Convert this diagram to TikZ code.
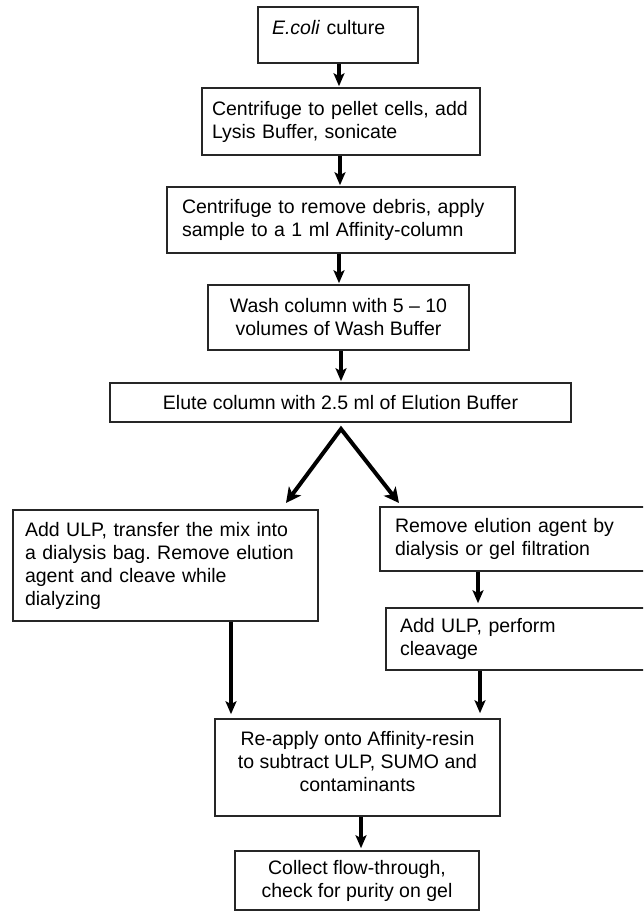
\documentclass[tikz,border=0pt]{standalone}
\usepackage{fontspec}
\setmainfont{Liberation Sans}
\usetikzlibrary{arrows.meta}
\frenchspacing
\begin{document}
\begin{tikzpicture}[x=1pt,y=-1pt,
  box/.style={draw=black!85, line width=1.6pt, rectangle, inner ysep=0pt,
    font=\fontsize{19.5}{23}\selectfont},
  lbox/.style={box, align=left},
  cbox/.style={box, align=center},
  arr/.style={line width=3.4pt, -{Stealth[length=13pt,width=11pt,inset=3pt]}, shorten >=1pt},
  barr/.style={line width=4pt, line join=miter,
    {Stealth[length=15pt,width=15pt,inset=4pt]}-{Stealth[length=15pt,width=15pt,inset=4pt]}}]
\clip (0,0) rectangle (643,912);
\fill[white] (0,0) rectangle (643,912);

\node[lbox, inner xsep=14pt, text width=132pt, minimum height=56pt, text depth=16pt] (b1) at (338,35) {\textit{E.coli} culture};
\node[lbox, inner xsep=10pt, text width=258pt, minimum height=67pt] (b2) at (341,121.5) {Centrifuge to pellet cells, add\\Lysis Buffer, sonicate};
\node[lbox, inner xsep=15pt, text width=318pt, minimum height=66pt] (b3) at (341,220) {Centrifuge to remove debris, apply\\sample to a 1 ml Affinity-column};
\node[cbox, minimum width=261pt, minimum height=65pt] (b4) at (338.5,317.5) {Wash column with 5 -- 10\\ volumes of Wash Buffer};
\node[cbox, minimum width=461pt, minimum height=39pt] (b5) at (340.5,402.5) {Elute column with 2.5 ml of Elution Buffer};
\node[lbox, inner xsep=12pt, text width=281pt, minimum height=111pt] (bL) at (165.5,565.5) {Add ULP, transfer the mix into\\a dialysis bag. Remove elution\\agent and cleave while\\dialyzing};
\node[lbox, inner xsep=15pt, text width=250pt, minimum height=64pt] (bR1) at (520,539) {Remove elution agent by\\dialysis or gel filtration};
\node[lbox, inner xsep=14pt, text width=246pt, minimum height=62pt] (bR2) at (523,639) {Add ULP, perform\\cleavage};
\node[cbox, minimum width=285pt, minimum height=97pt, text depth=12pt] (b6) at (357.5,767.5) {Re-apply onto Affinity-resin\\to subtract ULP, SUMO and\\contaminants};
\node[cbox, minimum width=244pt, minimum height=59pt] (b7) at (357,880.5) {Collect flow-through,\\check for purity on gel};

\coordinate (x1) at (339,0);
\coordinate (x2) at (340,0);
\coordinate (x3) at (339,0);
\coordinate (x4) at (341,0);
\coordinate (xl) at (231,0);
\coordinate (xr1) at (478,0);
\coordinate (xr2) at (480,0);
\coordinate (x6) at (361,0);
\coordinate (apex) at (341,429);
\coordinate (tl) at (286,503);
\coordinate (tr) at (399,503);

\draw[arr] (b1.south -| x1) -- (b2.north -| x1);
\draw[arr] (b2.south -| x2) -- (b3.north -| x2);
\draw[arr] (b3.south -| x3) -- (b4.north -| x3);
\draw[arr] (b4.south -| x4) -- (b5.north -| x4);
\draw[barr] (tl) -- (apex) -- (tr);
\draw[arr, shorten >=4pt] (bR1.south -| xr1) -- (bR2.north -| xr1);
\draw[arr, shorten >=4pt] (bL.south -| xl) -- (b6.north -| xl);
\draw[arr, shorten >=5pt] (bR2.south -| xr2) -- (b6.north -| xr2);
\draw[arr, shorten >=2pt] (b6.south -| x6) -- (b7.north -| x6);
\end{tikzpicture}
\end{document}
